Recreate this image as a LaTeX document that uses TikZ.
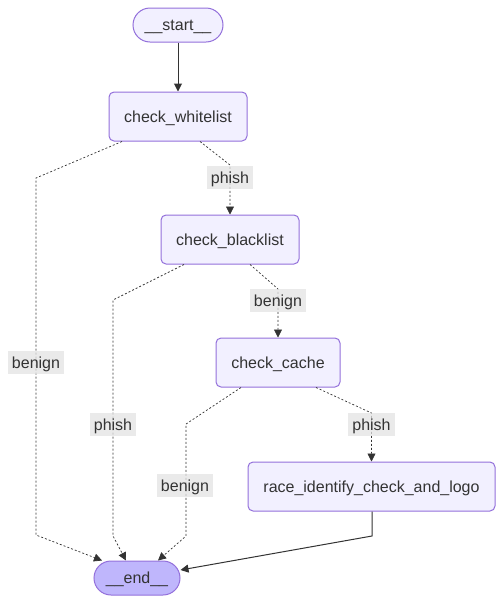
\documentclass[tikz,border=0pt]{standalone}
\usepackage{fontspec}
\setmainfont{Liberation Sans}
\usetikzlibrary{arrows.meta}
\definecolor{nodefill}{HTML}{F2F0FF}
\definecolor{nodeline}{HTML}{9370DB}
\definecolor{endfill}{HTML}{BFB6FC}
\definecolor{txt}{HTML}{333333}
\definecolor{lblbg}{HTML}{E3E3E3}
\begin{document}
\begin{tikzpicture}[x=1pt,y=-1pt,
  every node/.style={font=\fontsize{16}{19}\selectfont, text=txt, text height=13pt, text depth=2pt},
  box/.style={draw=nodeline, fill=nodefill, line width=1pt, rounded corners=5pt, minimum height=49pt, inner sep=0pt},
  term/.style={draw=nodeline, line width=1pt, rounded corners=17pt, minimum height=34pt, inner sep=0pt},
  solidedge/.style={draw=txt, line width=1pt, -{Triangle[length=8pt,width=8pt]}},
  dotedge/.style={draw=txt, line width=0.7pt, dash pattern=on 2pt off 2pt, -{Triangle[length=8pt,width=8pt]}},
  lbl/.style={fill=lblbg, fill opacity=0.75, text opacity=1, inner xsep=4pt, inner ysep=0pt, minimum height=23pt}
]
\useasboundingbox (0,0) rectangle (503,603);
% nodes
\node[term, fill=nodefill, minimum width=90pt] (start) at (178,25) {\_\_start\_\_};
\node[box, minimum width=138pt] (cw) at (178,116.5) {check\_whitelist};
\node[box, minimum width=138pt] (cb) at (230,239.5) {check\_blacklist};
\node[box, minimum width=124pt] (cc) at (278,362.5) {check\_cache};
\node[box, minimum width=247pt] (race) at (371.5,486.5) {race\_identify\_check\_and\_logo};
\node[term, fill=endfill, minimum width=86pt] (end) at (137,578) {\_\_end\_\_};
% bend points
\coordinate (b1) at (230,165);
\coordinate (b2a) at (36,178);
\coordinate (b2b) at (36,535);
\coordinate (b3) at (278,289);
\coordinate (b4a) at (113,300);
\coordinate (b4b) at (113,536);
\coordinate (b5) at (371.5,413);
\coordinate (b6a) at (186,424);
\coordinate (b6b) at (186,536);
\coordinate (b7) at (372,536);
% edges
\draw[solidedge] (start.south) -- (cw.north);
\draw[dotedge] ([xshift=22pt]cw.south) -- (b1) -- (cb.north);
\draw[dotedge] ([xshift=-56pt]cw.south) -- (b2a) -- (b2b) -- ([xshift=-35pt]end.north);
\draw[dotedge] ([xshift=20pt]cb.south) -- (b3) -- (cc.north);
\draw[dotedge] ([xshift=-46pt]cb.south) -- (b4a) -- (b4b) -- ([xshift=-11pt]end.north);
\draw[dotedge] ([xshift=38pt]cc.south) -- (b5) -- (race.north);
\draw[dotedge] ([xshift=-37pt]cc.south) -- (b6a) -- (b6b) -- ([xshift=21pt]end.north);
\draw[solidedge] ([xshift=0.5pt]race.south) -- (b7) -- ([yshift=8pt]end.east);
% labels
\node[lbl] (l1) at (230,177.5) {phish};
\node[lbl] (l2) at (36,362.5) {benign};
\node[lbl] (l3) at (278,300.5) {benign};
\node[lbl] (l4) at (113,424.5) {phish};
\node[lbl] (l5) at (371.5,424.5) {phish};
\node[lbl] (l6) at (185,485.5) {benign};
\end{tikzpicture}
\end{document}
